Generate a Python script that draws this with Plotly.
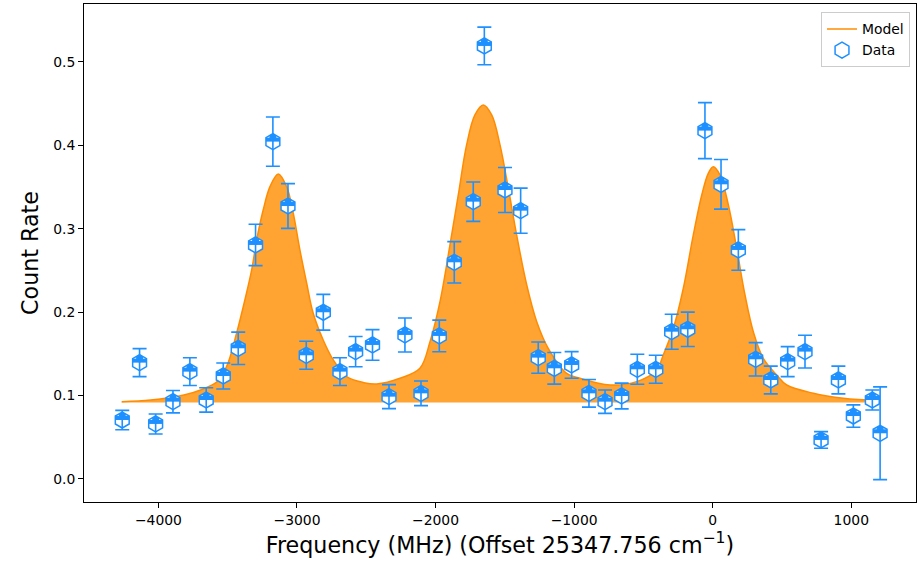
import plotly.graph_objects as go

# ---- data ----
freq = [-4261, -4136, -4020, -3895, -3773, -3655, -3532, -3424, -3299, -3174,
        -3065, -2933, -2810, -2690, -2577, -2455, -2336, -2221, -2105, -1973,
        -1865, -1728, -1648, -1499, -1386, -1259, -1143, -1018, -893, -777,
        -657, -544, -411, -296, -180, -56, 60, 185, 310, 419,
        541, 666, 782, 907, 1015, 1152, 1208]
rate = [0.0707, 0.1395, 0.0660, 0.0927, 0.1287, 0.0947, 0.1235, 0.1567, 0.2806, 0.4045,
        0.3273, 0.1483, 0.1999, 0.1287, 0.1527, 0.1607, 0.0987, 0.1727, 0.1027, 0.1715,
        0.2598, 0.3325, 0.5192, 0.3465, 0.3217, 0.1455, 0.1327, 0.1367, 0.1027, 0.0927,
        0.0995, 0.1315, 0.1315, 0.1766, 0.1795, 0.4177, 0.3533, 0.2746, 0.1435, 0.1187,
        0.1407, 0.1527, 0.0468, 0.1187, 0.0755, 0.0947, 0.0548]
rate_err = [0.0116, 0.0168, 0.0120, 0.0134, 0.0166, 0.0146, 0.0156, 0.0194, 0.0248, 0.0296,
            0.0268, 0.0168, 0.0214, 0.0166, 0.0182, 0.0184, 0.0144, 0.0204, 0.0148, 0.0190,
            0.0248, 0.0236, 0.0226, 0.0270, 0.0270, 0.0188, 0.0190, 0.0160, 0.0166, 0.0140,
            0.0154, 0.0180, 0.0168, 0.0210, 0.0206, 0.0336, 0.0298, 0.0244, 0.0200, 0.0166,
            0.0180, 0.0196, 0.0100, 0.0166, 0.0134, 0.0120, 0.0556]

model_freq = [-4265, -4056, -3816, -3695, -3576, -3508, -3436, -3376, -3327, -3291,
              -3244, -3195, -3135, -3075, -3027, -2979, -2930, -2883, -2811, -2738,
              -2642, -2517, -2425, -2257, -2113, -2040, -1968, -1896, -1836, -1776,
              -1716, -1656, -1595, -1535, -1475, -1415, -1342, -1270, -1187, -1054,
              -958, -741, -549, -404, -357, -284, -212, -140, -79, -32,
              4, 53, 113, 173, 233, 293, 365, 462, 534, 726,
              943, 1200]
model_rate = [0.0927, 0.0947, 0.1007, 0.1067, 0.1167, 0.1347, 0.1747, 0.2146, 0.2506, 0.2866,
              0.3225, 0.3505, 0.3657, 0.3505, 0.3186, 0.2746, 0.2347, 0.1987, 0.1667, 0.1427,
              0.1227, 0.1155, 0.1139, 0.1207, 0.1327, 0.1646, 0.2126, 0.2806, 0.3405, 0.4005,
              0.4365, 0.4484, 0.4365, 0.4005, 0.3486, 0.2926, 0.2326, 0.1886, 0.1567, 0.1267,
              0.1207, 0.1127, 0.1167, 0.1307, 0.1487, 0.1807, 0.2287, 0.2926, 0.3405, 0.3665,
              0.3745, 0.3645, 0.3285, 0.2766, 0.2206, 0.1766, 0.1447, 0.1247, 0.1127, 0.1028,
              0.0968, 0.0939]
baseline = 0.0917

x_ticks = [-4000, -3000, -2000, -1000, 0, 1000]
y_ticks = [0.0, 0.1, 0.2, 0.3, 0.4, 0.5]

BLUE = '#1e90ff'
ORANGE = '#ff8c00'
FONT = 'DejaVu Sans'
MS = 16
R = MS / 2

fig = go.Figure()

# fill base
fig.add_trace(go.Scatter(x=[model_freq[0], model_freq[-1]], y=[baseline, baseline],
                         mode='lines', line=dict(width=0, color=ORANGE),
                         showlegend=False, hoverinfo='skip'))
# model fill
fig.add_trace(go.Scatter(x=model_freq, y=model_rate, mode='lines', showlegend=False,
                         hoverinfo='skip',
                         line=dict(color=ORANGE, width=0, shape='spline'),
                         fill='tonexty', fillcolor='rgba(255,140,0,0.8)'))
# model line
fig.add_trace(go.Scatter(x=model_freq, y=model_rate, mode='lines', name='Model',
                         line=dict(color=ORANGE, width=1.5, shape='spline')))
# data: hollow hexagon body
fig.add_trace(go.Scatter(x=freq, y=rate, mode='markers', name='Data',
                         marker=dict(symbol='hexagon', size=MS, color='white',
                                     line=dict(color=BLUE, width=1.5))))
# data: filled upper half (band + small hexagon), shifted up with standoff
fig.add_trace(go.Scatter(x=freq, y=rate, mode='markers', showlegend=False, hoverinfo='skip',
                         marker=dict(symbol='line-ew', size=R * 1.24, color=BLUE, angle=180,
                                     standoff=R / 4, line=dict(color=BLUE, width=R / 2))))
fig.add_trace(go.Scatter(x=freq, y=rate, mode='markers', showlegend=False, hoverinfo='skip',
                         marker=dict(symbol='hexagon', size=MS / 2, color=BLUE, angle=180,
                                     standoff=R / 2, line=dict(width=0))))
# error bars on top
fig.add_trace(go.Scatter(x=freq, y=rate, mode='markers', showlegend=False, hoverinfo='skip',
                         marker=dict(size=1, opacity=0),
                         error_y=dict(type='data', array=rate_err, color=BLUE,
                                      thickness=1.6, width=7)))

axis_common = dict(showline=True, mirror=True, linecolor='black', linewidth=1,
                   ticks='outside', ticklen=5, tickwidth=1, tickcolor='black',
                   showgrid=False, zeroline=False,
                   tickfont=dict(family=FONT, size=13.9, color='black'))

fig.update_xaxes(range=[-4537, 1467], tickvals=x_ticks,
                 title=dict(text='Frequency (MHz) (Offset 25347.756 cm<sup>−1</sup>)',
                            font=dict(family=FONT, size=22.2, color='black'), standoff=10),
                 **axis_common)
fig.update_yaxes(range=[-0.0276, 0.5695], tickvals=y_ticks, tickformat='.1f',
                 title=dict(text='Count Rate', font=dict(family=FONT, size=22.2, color='black'),
                            standoff=8),
                 **axis_common)

fig.update_layout(
    width=917, height=565,
    margin=dict(l=84, r=1, t=4, b=63),
    plot_bgcolor='white', paper_bgcolor='white',
    font=dict(family=FONT, size=13.9, color='black'),
    legend=dict(x=0.9928, xanchor='right', y=0.983, yanchor='top', traceorder='normal',
                bgcolor='rgba(255,255,255,0.8)', bordercolor='#cccccc', borderwidth=1,
                font=dict(family=FONT, size=13.9, color='black')),
)

fig.write_html('out.html')
